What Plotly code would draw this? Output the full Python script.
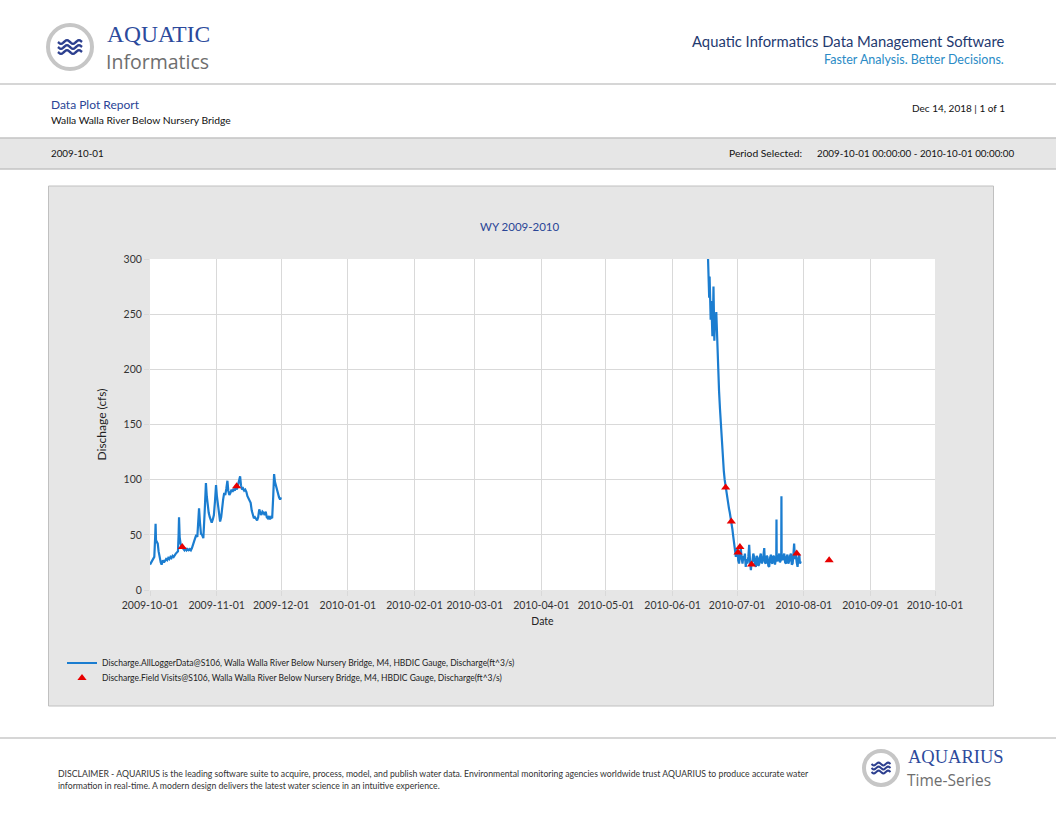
import math
import pandas as pd
import plotly.graph_objects as go

# ---------------- data ----------------
oct_start = "2009-10-01"
oct_days = [
    0.0, 0.5, 1.0, 1.5, 2.0, 2.4, 2.6, 2.8, 3.2, 3.6,
    4.0, 4.5, 5.0, 5.4, 6.0, 6.5, 7.0, 7.5, 8.0, 8.5,
    9.0, 9.5, 10.0, 10.5, 11.0, 11.5, 12.0, 12.5, 13.0, 13.3,
    13.5, 13.8, 14.2, 14.8, 15.5, 16.0, 16.5, 17.0, 17.5, 18.0,
    18.5, 19.0, 19.5, 20.0, 20.5, 21.0, 21.5, 22.0, 22.4, 22.8,
    23.2, 23.7, 24.2, 24.8, 25.4, 26.0, 26.4, 26.8, 27.3, 27.8,
    28.3, 28.7, 29.2, 29.7, 30.2, 30.7, 31.1, 31.6, 32.1, 32.6,
    33.1, 33.5, 34.0, 34.5, 35.0, 35.5, 36.0, 36.4, 36.9, 37.4,
    37.9, 38.4, 38.9, 39.4, 39.9, 40.4, 40.9, 41.4, 41.9, 42.3,
    42.8, 43.3, 43.8, 44.3, 44.8, 45.3, 45.8, 46.3, 46.8, 47.3,
    47.8, 48.3, 48.8, 49.3, 49.8, 50.3, 50.8, 51.3, 51.8, 52.3,
    52.8, 53.3, 53.8, 54.3, 54.8, 55.3, 55.8, 56.3, 56.8, 57.3,
    57.7, 58.1, 58.6, 59.1, 59.6, 60.0, 60.5, 60.9,
]
oct_cfs = [
    23, 25, 26, 29, 30, 48, 60, 45, 44, 42,
    35, 28, 25, 23, 27, 25, 27, 28, 27, 29,
    28, 30, 29, 31, 30, 32, 33, 34, 35, 50,
    66, 48, 42, 39, 37, 36, 38, 36, 37, 36,
    37, 36, 38, 42, 44, 47, 50, 48, 60, 74,
    62, 51, 50, 47, 70, 97, 85, 75, 70, 66,
    63, 61, 64, 68, 80, 95, 85, 76, 70, 62,
    66, 76, 82, 88, 86, 92, 99, 90, 86, 88,
    91, 89, 92, 90, 93, 91, 95, 97, 103, 95,
    91, 92, 90, 91, 89, 85, 83, 80, 79, 72,
    67, 65, 66, 64, 63, 66, 73, 70, 68, 71,
    70, 68, 71, 66, 65, 67, 64, 66, 65, 85,
    105, 98, 94, 90, 86, 84, 82, 84,
]

jun_start = "2010-06-01"
jun_days = [
    16.4, 16.6, 16.8, 17.0, 17.2, 17.4, 17.7, 18.0, 18.2, 18.5,
    18.8, 19.0, 19.2, 19.4, 19.7, 20.0, 20.3, 20.6, 20.8, 21.1,
    21.3, 21.6, 22.0, 22.4, 22.8, 23.3, 23.8, 24.2, 24.6, 25.0,
    25.5, 26.2, 26.6, 27.0, 27.4, 27.8, 28.1, 28.4, 28.6, 28.9,
    29.4, 29.8, 30.2, 30.5, 30.9, 31.3, 31.7, 32.1, 32.5, 32.9,
    33.3, 33.6, 34.0, 34.4, 34.8, 35.2, 35.6, 36.0, 36.4, 36.7,
    37.1, 37.5, 37.9, 38.3, 38.7, 39.1, 39.5, 39.8, 40.2, 40.6,
    41.0, 41.4, 41.8, 42.2, 42.6, 42.9, 43.3, 43.7, 44.1, 44.5,
    44.9, 45.3, 45.7, 46.0, 46.4, 46.8, 47.2, 47.6, 48.0, 48.2,
    48.3, 48.4, 48.8, 49.2, 49.6, 49.9, 50.3, 50.5, 50.6, 50.7,
    51.1, 51.5, 51.9, 52.3, 52.7, 53.0, 53.4, 53.8, 54.2, 54.6,
    55.0, 55.4, 55.8, 56.1, 56.5, 56.9, 57.3, 57.7, 58.1, 58.5,
    58.9, 59.2, 59.6,
]
jun_cfs = [
    305, 292, 280, 265, 284, 258, 245, 262, 240, 230,
    250, 275, 252, 226, 245, 242, 252, 232, 228, 215,
    205, 180, 165, 150, 138, 122, 108, 100, 94, 90,
    84, 74, 70, 66, 60, 55, 50, 44, 45, 36,
    30, 37, 35, 27, 24, 31, 38, 29, 24, 31,
    27, 33, 21, 28, 24, 30, 41, 26, 18, 25,
    26, 33, 30, 23, 21, 31, 29, 22, 23, 30,
    33, 24, 26, 31, 38, 25, 24, 31, 30, 22,
    21, 29, 32, 25, 24, 31, 30, 23, 27, 30,
    64, 28, 26, 31, 33, 25, 27, 30, 85, 29,
    27, 32, 33, 25, 24, 30, 32, 24, 26, 31,
    33, 23, 24, 30, 42, 28, 32, 25, 21, 29,
    32, 24, 26,
]

visit_times = ["2009-10-16 00:00", "2009-11-10 07:00", "2010-06-25 16:00",
               "2010-06-28 07:00", "2010-07-01 10:00", "2010-07-02 07:00",
               "2010-07-07 17:00", "2010-07-28 17:00", "2010-08-12 19:00"]
visit_cfs = [39, 94, 93, 62, 34, 39, 23, 33, 27]

month_ticks = ["2009-10-01", "2009-11-01", "2009-12-01", "2010-01-01", "2010-02-01",
               "2010-03-01", "2010-04-01", "2010-05-01", "2010-06-01", "2010-07-01",
               "2010-08-01", "2010-09-01", "2010-10-01"]
y_ticks = [0, 50, 100, 150, 200, 250, 300]

assert len(oct_days) == len(oct_cfs)
assert len(jun_days) == len(jun_cfs)

# ---------------- build ----------------
W, H = 1056, 816


def px(x):
    return x / W


def py(y):
    return 1 - y / H


t_oct = list(pd.Timestamp(oct_start) + pd.to_timedelta(oct_days, unit="D"))
t_jun = list(pd.Timestamp(jun_start) + pd.to_timedelta(jun_days, unit="D"))
x_all = t_oct + [None] + t_jun
y_all = oct_cfs + [None] + jun_cfs

LEG1 = "Discharge.AllLoggerData@S106, Walla Walla River Below Nursery Bridge, M4, HBDIC Gauge, Discharge(ft^3/s)"
LEG2 = "Discharge.Field Visits@S106, Walla Walla River Below Nursery Bridge, M4, HBDIC Gauge, Discharge(ft^3/s)"

fig = go.Figure()
fig.add_trace(go.Scatter(x=x_all, y=y_all, mode="lines", name=LEG1, legend="legend",
                         line=dict(color="#1b7dd0", width=2.2), connectgaps=False))
fig.add_trace(go.Scatter(x=visit_times, y=visit_cfs, mode="markers", name=LEG2, legend="legend2",
                         marker=dict(symbol="triangle-up", size=8, color="#e80000")))

FONT = "Lato"
shapes = []
shapes.append(dict(type="line", xref="paper", yref="paper", x0=0, x1=1, y0=py(84), y1=py(84),
                   line=dict(color="#c8c8c8", width=1.5), layer="below"))
shapes.append(dict(type="rect", xref="paper", yref="paper", x0=px(-2), x1=px(1058), y0=py(169), y1=py(138),
                   fillcolor="#e6e6e6", line=dict(color="#c4c4c4", width=1.5), layer="below"))
shapes.append(dict(type="rect", xref="paper", yref="paper", x0=px(48.5), x1=px(993.5), y0=py(706), y1=py(186),
                   fillcolor="#e6e6e6", line=dict(color="#c0c0c0", width=1), layer="below"))
shapes.append(dict(type="rect", xref="x domain", yref="y domain", x0=0, x1=1, y0=0, y1=1,
                   fillcolor="white", line=dict(width=0), layer="below"))
shapes.append(dict(type="line", xref="paper", yref="paper", x0=0, x1=1, y0=py(738), y1=py(738),
                   line=dict(color="#c8c8c8", width=1.5), layer="below"))


def logo(cx, cy, r, wave_w, amp, gap, lw):
    out = []
    out.append(dict(type="circle", xref="paper", yref="paper",
                    x0=px(cx - r), x1=px(cx + r), y0=py(cy + r), y1=py(cy - r),
                    fillcolor="white", line=dict(color="#c6c6c6", width=4), layer="above"))
    for k in (-1, 0, 1):
        pts = []
        n = 24
        for i in range(n + 1):
            xx = cx - wave_w / 2 + wave_w * i / n
            yy = cy + k * gap + amp * math.sin(2 * math.pi * 2 * i / n)
            pts.append(f"{px(xx):.5f},{py(yy):.5f}")
        out.append(dict(type="path", xref="paper", yref="paper",
                        path="M " + " L ".join(pts),
                        line=dict(color="#2c3f8f", width=lw), layer="above"))
    return out


shapes += logo(70, 47, 22, 24, 1.8, 5, 2.4)
shapes += logo(881, 768, 17, 19, 1.4, 4, 2.0)

ann = []


def text(x, y, s, size, color="#222222", anchor="left", family=FONT, **kw):
    ann.append(dict(x=px(x), y=py(y), xref="paper", yref="paper", text=s, showarrow=False,
                    xanchor=anchor, yanchor="middle",
                    font=dict(size=size, color=color, family=family), **kw))


text(105, 34, "AQUATIC", 23.5, "#2c4a9c", family="Liberation Serif")
text(104, 62, "Informatics", 19.5, "#6e6e6e", family="Open Sans")
text(1006, 41, "Aquatic Informatics Data Management Software", 14.8, "#1f3a70", anchor="right")
text(1006, 60, "Faster Analysis. Better Decisions.", 12.5, "#2a8bc6", anchor="right")
text(49, 104, "Data Plot Report", 12, "#2a4596")
text(49, 120, "Walla Walla River Below Nursery Bridge", 10.3, "#111111")
text(1007, 108, "Dec 14, 2018 | 1 of 1", 10, "#111111", anchor="right")
text(49, 153, "2009-10-01", 9.8, "#111111")
text(804, 153, "Period Selected:", 10.3, "#111111", anchor="right")
text(1016, 153, "2009-10-01 00:00:00 - 2010-10-01 00:00:00", 9.8, "#111111", anchor="right")
text(520, 226, "WY 2009-2010", 11.5, "#2a4596", anchor="center")
text(56, 773, "DISCLAIMER - AQUARIUS is the leading software suite to acquire, process, model, and publish water data. "
     "Environmental monitoring agencies worldwide trust AQUARIUS to produce accurate water", 8.7, "#333333")
text(56, 785, "information in real-time. A modern design delivers the latest water science in an intuitive experience.",
     8.7, "#333333")
text(906, 757, "AQUARIUS", 18.5, "#2c4a9c", family="Liberation Serif")
text(905, 780, "Time-Series", 15.5, "#6e6e6e", family="Open Sans")

leg_common = dict(xanchor="left", yanchor="middle", bgcolor="rgba(0,0,0,0)",
                  font=dict(size=8.5, color="#222222", family=FONT), itemwidth=30)

fig.update_layout(
    width=W, height=H, margin=dict(l=0, r=0, t=0, b=0, autoexpand=False),
    paper_bgcolor="white", plot_bgcolor="white",
    font=dict(family=FONT, size=10.5, color="#333333"),
    showlegend=True,
    legend=dict(x=px(62), y=py(663), **leg_common),
    legend2=dict(x=px(62), y=py(678), **leg_common),
    shapes=shapes, annotations=ann,
    xaxis=dict(domain=[px(150), px(935)], type="date",
               range=[month_ticks[0], month_ticks[-1]],
               tickvals=month_ticks, ticktext=month_ticks, tickangle=0,
               showgrid=True, gridcolor="#d9d9d9", gridwidth=1,
               ticks="outside", ticklen=5, tickcolor="#d9d9d9",
               showline=False, zeroline=False, automargin=False,
               title=dict(text="Date", font=dict(size=10.5, color="#222222"), standoff=8),
               tickfont=dict(size=10.5, color="#333333")),
    yaxis=dict(domain=[py(590), py(259)], range=[0, 300], tickvals=y_ticks,
               showgrid=True, gridcolor="#d9d9d9", gridwidth=1,
               ticks="outside", ticklen=5, tickcolor="#d9d9d9",
               showline=False, zeroline=False, automargin=False,
               title=dict(text="Dischage (cfs)", font=dict(size=12, color="#222222"), standoff=14),
               tickfont=dict(size=10.5, color="#333333")),
)

fig.write_html(
    "out.html",
    config={"displayModeBar": False, "responsive": False},
    post_script=("document.body.style.margin='0';document.body.style.overflow='hidden';"
                 "var gd=document.getElementById('{plot_id}');"
                 "Plotly.relayout(gd,{width:1056,height:816});"),
)
